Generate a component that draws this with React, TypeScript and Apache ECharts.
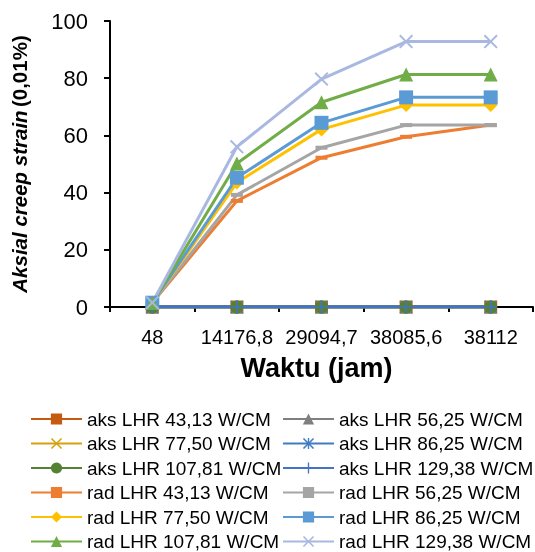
import React, { useEffect, useRef } from "react";
import * as echarts from "echarts";

const categories = ["48", "14176,8", "29094,7", "38085,6", "38112"];
const yTicks = { min: 0, max: 100, interval: 20 };

const aks43 = [0, 0, 0, 0, 0];
const aks56 = [0, 0, 0, 0, 0];
const aks77 = [0, 0, 0, 0, 0];
const aks86 = [0, 0, 0, 0, 0];
const aks107 = [0, 0, 0, 0, 0];
const aks129 = [0, 0, 0, 0, 0];
const rad43 = [1.5, 37.1, 52.2, 59.5, 63.6];
const rad56 = [1.5, 39.2, 55.7, 63.6, 63.6];
const rad77 = [1.5, 43.5, 62.1, 70.6, 70.6];
const rad86 = [1.5, 45.2, 64.4, 73.3, 73.3];
const rad107 = [1.5, 50.2, 71.6, 81.3, 81.3];
const rad129 = [1.5, 56.0, 79.7, 92.8, 92.8];

const X_PATH = "path://M0,1L1,0L5,4L9,0L10,1L6,5L10,9L9,10L5,6L1,10L0,9L4,5Z";
const STAR_PATH =
  "path://M0,1L1,0L5,4L9,0L10,1L6,5L10,9L9,10L5,6L1,10L0,9L4,5Z M4.4,0H5.6V10H4.4Z";
const PLUS_PATH = "path://M4.4,0H5.6V4.4H10V5.6H5.6V10H4.4V5.6H0V4.4H4.4Z";

type S = { name: string; data: number[]; color: string; symbol: string; size: any };

const seriesDefs: S[] = [
  { name: "aks LHR 43,13 W/CM", data: aks43, color: "#C55A11", symbol: "rect", size: 13 },
  { name: "aks LHR 56,25 W/CM", data: aks56, color: "#7F7F7F", symbol: "triangle", size: 13 },
  { name: "aks LHR 77,50 W/CM", data: aks77, color: "#D6A00E", symbol: X_PATH, size: 13 },
  { name: "aks LHR 86,25 W/CM", data: aks86, color: "#3E7DC0", symbol: STAR_PATH, size: 13 },
  { name: "aks LHR 107,81 W/CM", data: aks107, color: "#548235", symbol: "circle", size: 13 },
  { name: "aks LHR 129,38 W/CM", data: aks129, color: "#4472C4", symbol: PLUS_PATH, size: 13 },
  { name: "rad LHR 43,13 W/CM", data: rad43, color: "#ED7D31", symbol: "rect", size: [12, 4] },
  { name: "rad LHR 56,25 W/CM", data: rad56, color: "#A5A5A5", symbol: "rect", size: [12, 4] },
  { name: "rad LHR 77,50 W/CM", data: rad77, color: "#FFC000", symbol: "diamond", size: 14 },
  { name: "rad LHR 86,25 W/CM", data: rad86, color: "#5B9BD5", symbol: "rect", size: 14 },
  { name: "rad LHR 107,81 W/CM", data: rad107, color: "#70AD47", symbol: "triangle", size: 14 },
  { name: "rad LHR 129,38 W/CM", data: rad129, color: "#A9B8E0", symbol: X_PATH, size: 14 },
];

const FONT = "'Liberation Sans', Arial, sans-serif";

export default function App() {
  const ref = useRef<HTMLDivElement>(null);
  useEffect(() => {
    if (!ref.current) return;
    const chart = echarts.init(ref.current, undefined, { renderer: "svg" });
    const legends = seriesDefs.map((s, i) => {
      const row = Math.floor(i / 2);
      const col = i % 2;
      return {
        orient: "horizontal",
        left: col === 0 ? 30 : 282,
        top: 419 + row * 24.5 - 9.5,
        padding: 0,
        itemWidth: 51,
        itemHeight: 14,
        textStyle: { fontFamily: FONT, fontSize: 19, lineHeight: 19, color: "#000" },
        selectedMode: false,
        data: [s.name],
      };
    });
    chart.setOption({
      animation: false,
      textStyle: { fontFamily: FONT },
      grid: { left: 110, right: 2, top: 21, bottom: 245, containLabel: false },
      legend: legends,
      xAxis: {
        type: "category",
        data: categories,
        boundaryGap: true,
        axisLine: { lineStyle: { color: "#000", width: 2 } },
        axisTick: { show: true, length: 5, lineStyle: { color: "#000", width: 2 } },
        axisLabel: { color: "#000", fontSize: 20, margin: 20, fontFamily: FONT, interval: 0 },
        name: "Waktu (jam)",
        nameLocation: "middle",
        nameGap: 47,
        nameTextStyle: { fontSize: 27, fontWeight: "bold", color: "#000", fontFamily: FONT, padding: [0, 10, 0, 0] },
      },
      yAxis: {
        type: "value",
        min: yTicks.min,
        max: yTicks.max,
        interval: yTicks.interval,
        splitLine: { show: false },
        axisLine: { show: true, lineStyle: { color: "#000", width: 2 } },
        axisTick: { show: true, length: 6, lineStyle: { color: "#000", width: 2 } },
        axisLabel: { color: "#000", fontSize: 22, margin: 22, fontFamily: FONT },
        name: "{i|Aksial creep strain} {b|(0,01%)}",
        nameLocation: "middle",
        nameGap: 80,
        nameTextStyle: {
          color: "#000",
          rich: {
            i: { fontSize: 20.5, fontWeight: "bold", fontStyle: "italic", fontFamily: FONT, color: "#000" },
            b: { fontSize: 20.5, fontWeight: "bold", fontFamily: FONT, color: "#000" },
          },
        },
      },
      series: seriesDefs.map((s) => ({
        name: s.name,
        type: "line",
        data: s.data,
        symbol: s.symbol,
        symbolSize: s.size,
        showAllSymbol: true,
        lineStyle: { color: s.color, width: 3 },
        itemStyle: { color: s.color, borderWidth: 0 },
        emphasis: { disabled: true },
      })),
    });
    return () => chart.dispose();
  }, []);
  return (
    <div
      ref={ref}
      style={{ position: "fixed", left: 0, top: 0, width: 535, height: 552 }}
    />
  );
}
